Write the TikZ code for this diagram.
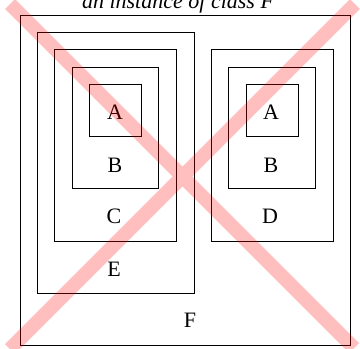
\documentclass[tikz,border=0pt]{standalone}
\usepackage{fontspec}
\setmainfont{Liberation Serif}
\usetikzlibrary{positioning}
\tikzset{
  box/.style={rectangle, draw=black, line width=0.9pt, inner sep=0pt},
  lbl/.style={inner sep=0pt, font=\fontsize{22}{26}\selectfont},
  ttl/.style={inner sep=0pt, font=\fontsize{22}{26}\selectfont\itshape},
  cross/.style={draw=red, opacity=0.25, line width=14pt},
}
\begin{document}
\begin{tikzpicture}[x=1pt, y=-1pt]
  \useasboundingbox (0,0) rectangle (360,349);
  \node[ttl, anchor=base] (title) at (178,8) {an instance of class F};

  %outer instance
  \node[box, minimum width=330pt, minimum height=330pt] (F) at (185,180) {};
  \node[box, minimum width=157pt, minimum height=261pt] (E) at (115.5,162.5) {};

  %left nesting
  \node[box, minimum width=122pt, minimum height=192pt] (C) at (115,145) {};
  \node[box, minimum width=86pt, minimum height=121pt] (B1) at (115,127.5) {};
  \node[box, minimum width=52pt, minimum height=52pt] (A1) at (115,110) {};

  %right nesting
  \node[box, minimum width=122pt, minimum height=192pt] (D) at (272,145) {};
  \node[box, minimum width=87pt, minimum height=121pt] (B2) at (271.5,127.5) {};
  \node[box, minimum width=52pt, minimum height=52pt] (A2) at (272,110) {};

  %labels
  \node[lbl] (lA1) at (115,112) {A};
  \node[lbl] (lB1) at (115,165) {B};
  \node[lbl] (lC) at (114,216) {C};
  \node[lbl] (lE) at (114,269) {E};
  \node[lbl] (lA2) at (271,112) {A};
  \node[lbl] (lB2) at (271,165) {B};
  \node[lbl] (lD) at (270,216) {D};
  \node[lbl] (lF) at (190,320) {F};

  %crossed out
  \coordinate (xtl) at (10,4);
  \coordinate (xbr) at (354,348);
  \coordinate (xbl) at (10,349);
  \coordinate (xtr) at (355,4);
  \path[cross] (xtl) -- (xbr) (xbl) -- (xtr);
\end{tikzpicture}
\end{document}
